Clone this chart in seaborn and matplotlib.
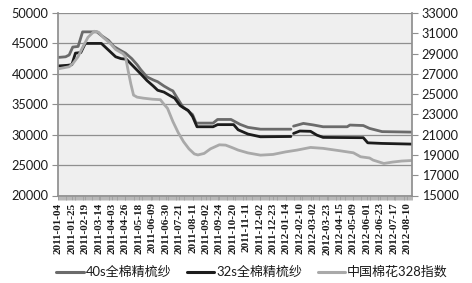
import numpy as np
import pandas as pd
import matplotlib
matplotlib.use("Agg")
import matplotlib.pyplot as plt
from matplotlib.lines import Line2D
import seaborn as sns

# ---------------- data (trading-day index, value) ----------------
tick_labels = ["2011-01-04", "2011-01-25", "2011-02-19", "2011-03-14", "2011-04-03",
               "2011-04-26", "2011-05-18", "2011-06-09", "2011-06-30", "2011-07-21",
               "2011-08-11", "2011-09-02", "2011-09-24", "2011-10-20", "2011-11-11",
               "2011-12-02", "2011-12-23", "2012-01-14", "2012-02-10", "2012-03-02",
               "2012-03-23", "2012-04-15", "2012-05-09", "2012-06-01", "2012-06-23",
               "2012-07-17", "2012-08-10"]

yarn40_day = [0, 8, 12, 16, 22, 27, 43, 48, 56, 62, 70, 75, 82, 88, 92, 99, 106, 111,
              118, 125, 128, 133, 139, 146, 150, 154, 173, 178, 193, 203, 212, 226, 260,
              263, 274, 285, 296, 323, 326, 341, 348, 362, 395]
yarn40_val = [42700, 42800, 43100, 44400, 44500, 46900, 46900, 46300, 45500, 44500,
              43800, 43400, 42500, 41500, 40700, 39500, 39000, 38700, 38000, 37400,
              37200, 36000, 34600, 33800, 33300, 31900, 31900, 32500, 32500, 31700,
              31200, 30900, 30900, 31400, 31850, 31600, 31300, 31300, 31580, 31500,
              31030, 30500, 30420]

yarn32_day = [0, 10, 15, 19, 25, 30, 48, 56, 64, 70, 76, 82, 88, 92, 99, 106, 111, 118,
              125, 130, 136, 140, 145, 150, 155, 173, 178, 196, 201, 212, 226, 260,
              263, 270, 282, 289, 296, 341, 346, 362, 395]
yarn32_val = [41300, 41400, 41500, 43400, 43500, 45000, 45000, 43900, 42800, 42500,
              42400, 41500, 40600, 40000, 38900, 38000, 37300, 37000, 36400, 36000,
              34800, 34400, 34000, 33000, 31300, 31300, 31650, 31650, 30800, 30100,
              29650, 29700, 30200, 30600, 30550, 29930, 29550, 29500, 28660, 28560,
              28450]

cotton_day = [0, 12, 16, 22, 27, 33, 40, 45, 50, 58, 64, 72, 75, 78, 81, 84, 88, 95,
              105, 114, 118, 122, 128, 134, 140, 146, 152, 156, 163, 170, 180, 187,
              195, 201, 212, 226, 240, 254, 267, 282, 296, 315, 330, 338, 348, 352,
              364, 374, 384, 395]
cotton_val = [27500, 27700, 28000, 28700, 29600, 30600, 31200, 31100, 30600, 30000,
              29400, 29000, 28700, 27300, 26000, 24900, 24700, 24600, 24500, 24450,
              24000, 23600, 22300, 21200, 20300, 19600, 19100, 19000, 19150, 19600,
              20000, 19970, 19700, 19480, 19200, 18980, 19050, 19300, 19480, 19740,
              19650, 19410, 19210, 18820, 18700, 18490, 18160, 18300, 18400, 18450]

gap_end = 263   # yarn series resume after a short holiday gap

names = ["40s全棉精梳纱", "32s全棉精梳纱", "中国棉花328指数"]
colors = ["#6b6b6b", "#1c1c1c", "#a9a9a9"]

# ---------------- style ----------------
sns.set_theme(style="white")
plt.rcParams["font.family"] = ["Lato", "Noto Sans CJK SC", "DejaVu Sans"]

fig = plt.figure(figsize=(4.72, 2.83), dpi=100)
ax = fig.add_axes([58 / 472, 1 - 195.5 / 283, (412 - 58) / 472, (195.5 - 13) / 283])
ax.set_facecolor("#efefef")
ax2 = ax.twinx()
ax2.set_zorder(ax.get_zorder() + 1)
ax2.patch.set_visible(False)

lw = 2.0


def draw(axis, days, vals, color, split=False):
    df = pd.DataFrame({"day": days, "val": vals})
    df["seg"] = 0
    if split:
        df.loc[df["day"] >= gap_end, "seg"] = 1
    for _, part in df.groupby("seg"):
        sns.lineplot(data=part, x="day", y="val", ax=axis, color=color,
                     linewidth=lw, legend=False, estimator=None, sort=True)


draw(ax, yarn40_day, yarn40_val, colors[0], split=True)
draw(ax, yarn32_day, yarn32_val, colors[1], split=True)
draw(ax2, cotton_day, cotton_val, colors[2])

# axes limits & ticks
ax.set_xlim(-0.5, 395.5)
ax.set_ylim(20000, 50000)
ax2.set_ylim(15000, 33000)
ax.set_yticks(np.arange(20000, 50001, 5000))
ax2.set_yticks(np.arange(15000, 33001, 2000))
ax.set_xticks(np.arange(0, 15 * len(tick_labels), 15))
ax.set_xticklabels(tick_labels, rotation=90, fontsize=8, color="#1a1a1a",
                   family=["Liberation Serif"], fontweight="bold")
ax.set_xticks(np.arange(0, 396, 1), minor=True)
ax.set_xlabel("")
ax.set_ylabel("")
ax2.set_ylabel("")

ax.grid(axis="y", color="#8f8f8f", linewidth=0.9)
ax.grid(axis="x", visible=False)

for a in (ax, ax2):
    for s in a.spines.values():
        s.set_visible(False)
ax.spines["left"].set_visible(True)
ax.spines["left"].set_color("#8f8f8f")
ax2.spines["right"].set_visible(True)
ax2.spines["right"].set_color("#8f8f8f")
ax.spines["bottom"].set_visible(True)
ax.spines["bottom"].set_color("#8f8f8f")

ax.tick_params(axis="y", which="major", length=4, color="#8f8f8f", width=0.8,
               labelsize=9.2, labelcolor="#1a1a1a", pad=3, left=True)
ax2.tick_params(axis="y", which="major", length=4, color="#8f8f8f", width=0.8,
                labelsize=9.2, labelcolor="#1a1a1a", pad=3, right=True)
ax.tick_params(axis="x", which="major", length=3, color="#8f8f8f", width=0.6, pad=2,
               bottom=True)
ax.tick_params(axis="x", which="minor", length=3, color="#9a9a9a", width=0.5,
               bottom=True)

handles = [Line2D([0], [0], color=c, linewidth=2.2) for c in colors]
fig.legend(handles, names, loc="center", bbox_to_anchor=(0.534, 1 - 272 / 283),
           ncol=3, frameon=False, fontsize=9.4, handlelength=2.1, handletextpad=0.15,
           columnspacing=1.2, labelcolor="#1a1a1a")

fig.savefig("out.png", dpi=100, facecolor="white")
